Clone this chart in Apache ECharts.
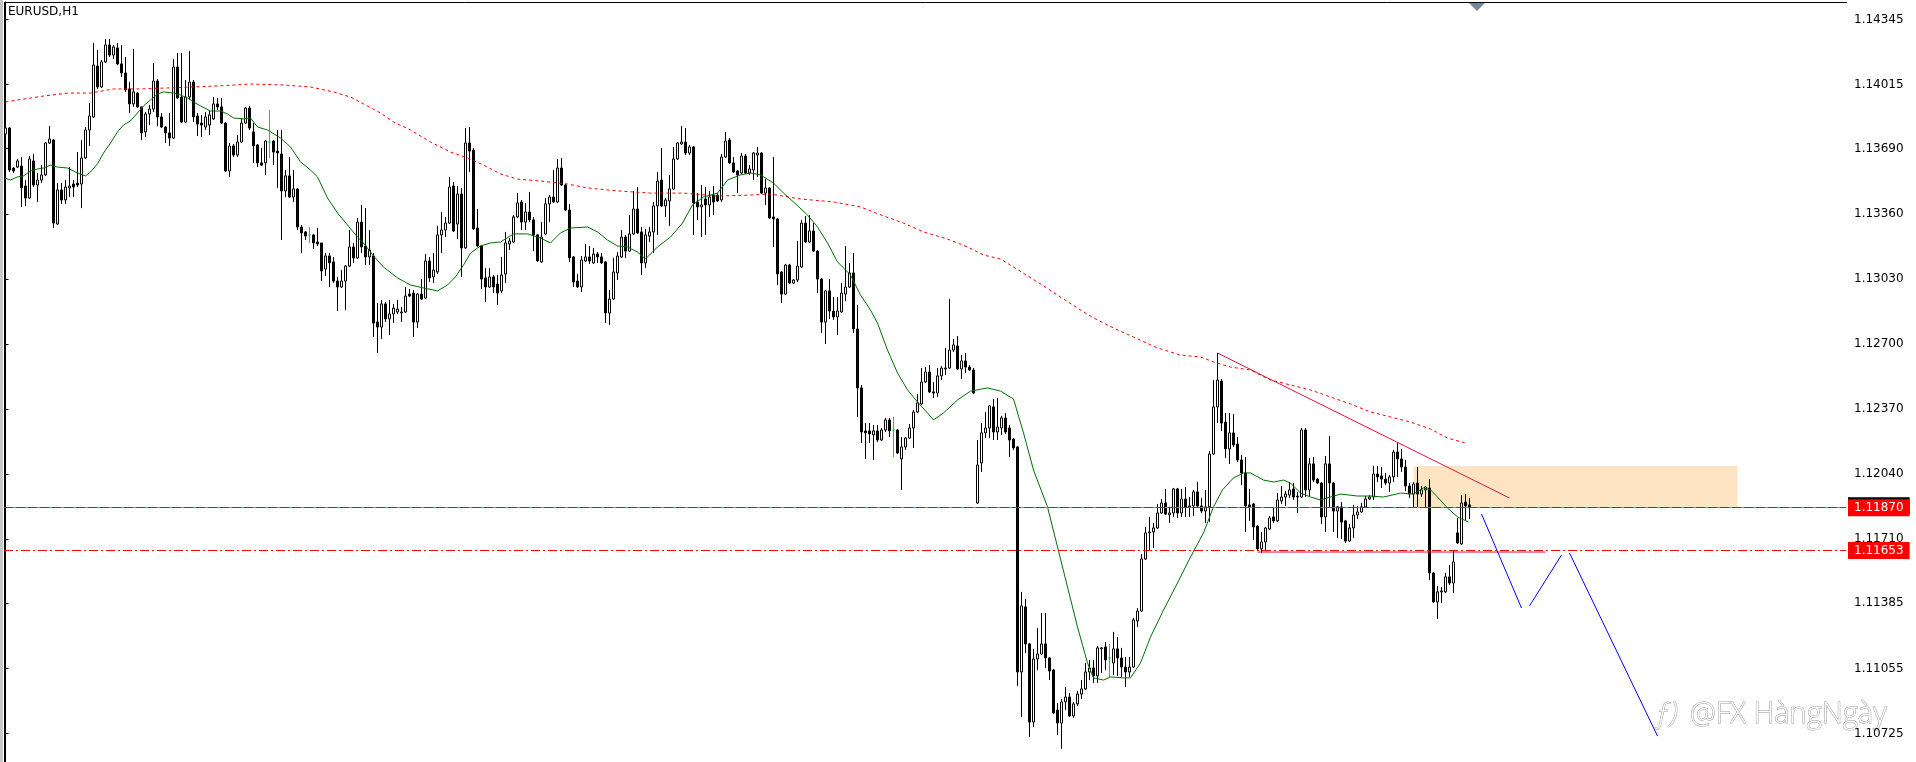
<!DOCTYPE html>
<html><head><meta charset="utf-8">
<script src="https://cdn.jsdelivr.net/npm/echarts@6/dist/echarts.min.js"></script>
<style>html,body{margin:0;padding:0;background:#fff;overflow:hidden}#c{width:1916px;height:762px}</style>
</head><body><div id="c"></div>
<script>
const chartTitle = 'EURUSD,H1';
const watermark = '@FX HàngNgày';

const open = [
1.13765,1.13795,1.13592,1.13597,1.13602,1.13501,1.13440,1.13628,1.13506,1.13531,
1.13557,1.13719,1.13734,1.13308,1.13481,1.13430,1.13491,1.13511,1.13516,1.13511,
1.13643,1.13785,1.13851,1.14109,1.14003,1.14130,1.14216,1.14165,1.14201,1.14120,
1.14074,1.13993,1.13917,1.13972,1.13902,1.13775,1.13866,1.13891,1.14033,1.13851,
1.13800,1.13770,1.13744,1.14104,1.13952,1.13825,1.13952,1.14028,1.13856,1.13820,
1.13800,1.13810,1.13841,1.13917,1.13902,1.13820,1.13577,1.13704,1.13658,1.13724,
1.13820,1.13896,1.13775,1.13709,1.13618,1.13618,1.13724,1.13729,1.13678,1.13663,
1.13476,1.13552,1.13445,1.13486,1.13293,1.13268,1.13253,1.13253,1.13217,1.13212,
1.13080,1.13146,1.13116,1.13019,1.12989,1.13019,1.13095,1.13192,1.13136,1.13318,
1.13197,1.13141,1.13146,1.12811,1.12786,1.12903,1.12827,1.12852,1.12862,1.12857,
1.12862,1.12953,1.12958,1.12811,1.12953,1.12933,1.13121,1.13040,1.13065,1.13253,
1.13278,1.13313,1.13501,1.13308,1.13460,1.13187,1.13719,1.13683,1.13288,1.13197,
1.13035,1.12989,1.13040,1.13004,1.12969,1.13055,1.13207,1.13217,1.13344,1.13420,
1.13318,1.13369,1.13329,1.13253,1.13116,1.13258,1.13410,1.13445,1.13420,1.13592,
1.13506,1.13379,1.13141,1.13019,1.12989,1.13121,1.13141,1.13111,1.13156,1.13141,
1.13116,1.12857,1.12928,1.13060,1.13141,1.13242,1.13171,1.13258,1.13384,1.13268,
1.13111,1.13247,1.13268,1.13400,1.13531,1.13400,1.13425,1.13486,1.13638,1.13714,
1.13724,1.13668,1.13699,1.13420,1.13395,1.13435,1.13405,1.13455,1.13455,1.13430,
1.13648,1.13734,1.13618,1.13577,1.13567,1.13653,1.13567,1.13582,1.13658,1.13668,
1.13465,1.13491,1.13344,1.13334,1.13065,1.12953,1.13100,1.13009,1.13024,1.13090,
1.13313,1.13217,1.13273,1.13171,1.13029,1.12811,1.12969,1.12867,1.12837,1.12862,
1.12953,1.12989,1.13060,1.12776,1.12477,1.12259,1.12259,1.12239,1.12259,1.12213,
1.12264,1.12315,1.12264,1.12264,1.12117,1.12178,1.12223,1.12274,1.12355,1.12396,
1.12507,1.12558,1.12457,1.12451,1.12538,1.12573,1.12578,1.12669,1.12690,1.12573,
1.12614,1.12583,1.12568,1.11894,1.12097,1.12249,1.12274,1.12381,1.12254,1.12274,
1.12325,1.12274,1.12218,1.12178,1.11037,1.11367,1.11179,1.10783,1.11103,1.11128,
1.11179,1.11108,1.11047,1.10844,1.10778,1.10885,1.10910,1.10814,1.10875,1.10925,
1.10951,1.11037,1.11057,1.11017,1.11154,1.11164,1.11108,1.11083,1.11154,1.11108,
1.11062,1.11037,1.11062,1.11296,1.11346,1.11610,1.11742,1.11747,1.11767,1.11843,
1.11894,1.11833,1.11843,1.11965,1.11843,1.11914,1.11874,1.11879,1.11950,1.11879,
1.11853,1.11874,1.12142,1.12381,1.12512,1.12304,1.12168,1.12249,1.12193,1.12112,
1.12046,1.11884,1.11889,1.11777,1.11661,1.11696,1.11762,1.11823,1.11803,1.11904,
1.11924,1.11934,1.11965,1.11929,1.11924,1.12264,1.11960,1.12092,1.12015,1.11995,
1.11823,1.12092,1.11995,1.11853,1.11874,1.11803,1.11701,1.11767,1.11833,1.11848,
1.11874,1.11914,1.11924,1.12041,1.12031,1.12015,1.11995,1.12026,1.12152,1.12117,
1.12076,1.11980,1.11939,1.11995,1.11939,1.11960,1.11970,1.11539,1.11392,1.11443,
1.11443,1.11519,1.11488,1.11742,1.11686,1.11899,1.11884];

const high = [
1.13805,1.13800,1.13597,1.13638,1.13648,1.13531,1.13653,1.13663,1.13567,1.13607,
1.13724,1.13805,1.13739,1.13516,1.13516,1.13531,1.13597,1.13531,1.13673,1.13734,
1.13800,1.13922,1.14226,1.14190,1.14140,1.14246,1.14246,1.14216,1.14226,1.14216,
1.14155,1.14028,1.14196,1.13978,1.13902,1.13876,1.13912,1.14125,1.14043,1.13871,
1.13805,1.13871,1.14145,1.14175,1.14175,1.14038,1.14185,1.14038,1.13871,1.13861,
1.13876,1.13886,1.13952,1.13947,1.13947,1.13825,1.13719,1.13714,1.13760,1.13846,
1.13902,1.13907,1.13820,1.13714,1.13694,1.13734,1.13886,1.13734,1.13785,1.13785,
1.13582,1.13648,1.13582,1.13491,1.13303,1.13273,1.13293,1.13258,1.13288,1.13212,
1.13161,1.13161,1.13141,1.13040,1.13075,1.13100,1.13278,1.13212,1.13339,1.13405,
1.13389,1.13278,1.13161,1.12908,1.12923,1.12913,1.12923,1.12903,1.12923,1.12888,
1.12989,1.12979,1.12974,1.12958,1.13029,1.13156,1.13141,1.13161,1.13298,1.13369,
1.13344,1.13547,1.13521,1.13501,1.13491,1.13795,1.13800,1.13694,1.13384,1.13202,
1.13085,1.13085,1.13050,1.13050,1.13141,1.13268,1.13237,1.13354,1.13465,1.13430,
1.13415,1.13471,1.13344,1.13258,1.13318,1.13440,1.13455,1.13582,1.13638,1.13643,
1.13511,1.13410,1.13146,1.13055,1.13146,1.13207,1.13197,1.13187,1.13166,1.13161,
1.13121,1.12974,1.13136,1.13166,1.13278,1.13253,1.13354,1.13476,1.13496,1.13293,
1.13283,1.13293,1.13420,1.13572,1.13694,1.13440,1.13557,1.13699,1.13724,1.13805,
1.13795,1.13709,1.13704,1.13465,1.13506,1.13496,1.13476,1.13501,1.13465,1.13663,
1.13775,1.13744,1.13648,1.13582,1.13668,1.13663,1.13607,1.13673,1.13699,1.13673,
1.13536,1.13496,1.13648,1.13339,1.13070,1.13106,1.13106,1.13029,1.13222,1.13329,
1.13349,1.13354,1.13313,1.13176,1.13035,1.12974,1.13029,1.12938,1.12938,1.13009,
1.13197,1.13111,1.13161,1.12898,1.12492,1.12299,1.12299,1.12289,1.12289,1.12274,
1.12325,1.12325,1.12330,1.12269,1.12228,1.12228,1.12294,1.12365,1.12446,1.12578,
1.12583,1.12593,1.12507,1.12578,1.12588,1.12680,1.12928,1.12725,1.12740,1.12644,
1.12654,1.12593,1.12578,1.12213,1.12299,1.12355,1.12391,1.12421,1.12426,1.12335,
1.12350,1.12289,1.12223,1.12183,1.11443,1.11407,1.11184,1.11154,1.11260,1.11336,
1.11336,1.11113,1.11052,1.10880,1.10900,1.10961,1.10930,1.10885,1.10941,1.10996,
1.11083,1.11098,1.11098,1.11169,1.11164,1.11189,1.11179,1.11240,1.11214,1.11159,
1.11113,1.11113,1.11311,1.11361,1.11635,1.11772,1.11823,1.11792,1.11889,1.11914,
1.11965,1.11874,1.11970,1.11970,1.11965,1.11975,1.11924,1.11960,1.12000,1.11919,
1.11960,1.12157,1.12517,1.12654,1.12522,1.12350,1.12350,1.12345,1.12228,1.12137,
1.12127,1.11965,1.11894,1.11782,1.11747,1.11772,1.11828,1.11874,1.11944,1.11980,
1.11955,1.12000,1.11995,1.11950,1.12274,1.12274,1.12122,1.12127,1.12021,1.12000,
1.12132,1.12233,1.12000,1.11879,1.11899,1.11808,1.11787,1.11884,1.11879,1.11894,
1.11929,1.11934,1.12081,1.12081,1.12076,1.12046,1.12036,1.12162,1.12198,1.12168,
1.12112,1.11995,1.12000,1.12076,1.11980,1.11980,1.12015,1.11544,1.11473,1.11468,
1.11539,1.11579,1.11650,1.11818,1.11934,1.11939,1.11919];

const low = [
1.13749,1.13572,1.13567,1.13592,1.13395,1.13400,1.13435,1.13496,1.13420,1.13516,
1.13552,1.13714,1.13288,1.13303,1.13410,1.13410,1.13445,1.13445,1.13496,1.13389,
1.13638,1.13704,1.13846,1.13993,1.13998,1.14125,1.14155,1.14145,1.14114,1.14054,
1.13978,1.13871,1.13902,1.13896,1.13734,1.13749,1.13810,1.13876,1.13805,1.13795,
1.13719,1.13704,1.13739,1.13942,1.13820,1.13820,1.13937,1.13825,1.13754,1.13749,
1.13785,1.13760,1.13836,1.13886,1.13815,1.13572,1.13547,1.13648,1.13648,1.13719,
1.13815,1.13785,1.13618,1.13597,1.13602,1.13557,1.13643,1.13607,1.13491,1.13227,
1.13445,1.13440,1.13420,1.13278,1.13161,1.13227,1.13212,1.13182,1.13197,1.13019,
1.13045,1.12989,1.13009,1.12867,1.12984,1.12872,1.13090,1.13111,1.13131,1.13161,
1.13100,1.13100,1.12735,1.12654,1.12725,1.12811,1.12746,1.12806,1.12852,1.12811,
1.12857,1.12938,1.12735,1.12781,1.12923,1.12928,1.13014,1.13009,1.13055,1.13161,
1.13242,1.13308,1.13268,1.13232,1.13040,1.13182,1.13572,1.13278,1.13192,1.12979,
1.12913,1.12984,1.12958,1.12898,1.12958,1.13009,1.13176,1.13212,1.13339,1.13278,
1.13278,1.13318,1.13171,1.13116,1.13111,1.13253,1.13318,1.13415,1.13415,1.13501,
1.13374,1.13116,1.12989,1.12984,1.12964,1.13116,1.13106,1.13106,1.13111,1.13106,
1.12806,1.12796,1.12923,1.13024,1.13136,1.13136,1.13166,1.13253,1.13258,1.13050,
1.13085,1.13217,1.13161,1.13253,1.13395,1.13344,1.13298,1.13481,1.13633,1.13709,
1.13658,1.13658,1.13253,1.13329,1.13242,1.13253,1.13344,1.13354,1.13420,1.13420,
1.13643,1.13613,1.13567,1.13465,1.13562,1.13562,1.13557,1.13531,1.13547,1.13460,
1.13405,1.13334,1.13192,1.12999,1.12908,1.12948,1.13004,1.13004,1.13014,1.13085,
1.13212,1.13212,1.13166,1.12958,1.12756,1.12700,1.12827,1.12822,1.12746,1.12857,
1.12918,1.12984,1.12756,1.12330,1.12198,1.12117,1.12198,1.12112,1.12203,1.12208,
1.12254,1.12228,1.12127,1.12142,1.11960,1.12162,1.12218,1.12173,1.12350,1.12391,
1.12502,1.12451,1.12426,1.12431,1.12517,1.12543,1.12573,1.12659,1.12568,1.12522,
1.12553,1.12563,1.12446,1.11889,1.12051,1.12223,1.12223,1.12213,1.12213,1.12239,
1.12244,1.12127,1.12162,1.10966,1.10809,1.11133,1.10707,1.10758,1.11047,1.11123,
1.11057,1.10996,1.10824,1.10718,1.10647,1.10844,1.10809,1.10804,1.10865,1.10900,
1.10946,1.10996,1.10981,1.10981,1.11032,1.11047,1.11012,1.11022,1.11017,1.11012,
1.10961,1.11012,1.11057,1.11265,1.11341,1.11605,1.11655,1.11666,1.11762,1.11838,
1.11833,1.11792,1.11823,1.11818,1.11823,1.11823,1.11823,1.11828,1.11868,1.11843,
1.11792,1.11797,1.12137,1.12299,1.12259,1.12122,1.12092,1.12178,1.12102,1.11985,
1.11747,1.11803,1.11706,1.11650,1.11640,1.11655,1.11757,1.11792,1.11797,1.11889,
1.11879,1.11919,1.11909,1.11843,1.11919,1.11924,1.11924,1.12000,1.11990,1.11787,
1.11747,1.11874,1.11747,1.11716,1.11711,1.11691,1.11696,1.11716,1.11813,1.11843,
1.11868,1.11909,1.11909,1.12000,1.11970,1.11985,1.11950,1.12000,1.12026,1.12051,
1.11955,1.11919,1.11874,1.11874,1.11924,1.11874,1.11503,1.11387,1.11306,1.11387,
1.11437,1.11478,1.11437,1.11686,1.11681,1.11808,1.11813];

const close = [
1.13795,1.13582,1.13577,1.13628,1.13491,1.13440,1.13638,1.13506,1.13531,1.13557,
1.13719,1.13739,1.13313,1.13481,1.13430,1.13496,1.13501,1.13496,1.13506,1.13643,
1.13785,1.13856,1.14114,1.14003,1.14130,1.14216,1.14165,1.14206,1.14120,1.14074,
1.13988,1.13917,1.13978,1.13902,1.13770,1.13866,1.13891,1.14033,1.13851,1.13800,
1.13770,1.13744,1.14104,1.13947,1.13825,1.13952,1.14028,1.13851,1.13815,1.13810,
1.13851,1.13861,1.13917,1.13902,1.13820,1.13577,1.13704,1.13658,1.13724,1.13820,
1.13896,1.13795,1.13704,1.13618,1.13607,1.13729,1.13724,1.13673,1.13668,1.13476,
1.13552,1.13445,1.13486,1.13293,1.13263,1.13247,1.13253,1.13212,1.13207,1.13070,
1.13146,1.13111,1.13019,1.12989,1.13019,1.13095,1.13192,1.13136,1.13318,1.13192,
1.13141,1.13176,1.12806,1.12786,1.12903,1.12827,1.12852,1.12882,1.12877,1.12862,
1.12943,1.12943,1.12811,1.12953,1.12928,1.13121,1.13035,1.13075,1.13253,1.13278,
1.13313,1.13496,1.13273,1.13460,1.13187,1.13719,1.13678,1.13283,1.13197,1.13029,
1.12989,1.13040,1.12989,1.12958,1.13050,1.13212,1.13222,1.13344,1.13415,1.13318,
1.13369,1.13329,1.13253,1.13121,1.13242,1.13410,1.13445,1.13420,1.13592,1.13506,
1.13379,1.13136,1.13014,1.12989,1.13126,1.13141,1.13121,1.13156,1.13141,1.13111,
1.12857,1.12928,1.13065,1.13146,1.13242,1.13171,1.13258,1.13384,1.13263,1.13111,
1.13253,1.13268,1.13400,1.13526,1.13400,1.13430,1.13486,1.13638,1.13719,1.13724,
1.13668,1.13699,1.13415,1.13395,1.13405,1.13405,1.13445,1.13420,1.13425,1.13648,
1.13729,1.13618,1.13572,1.13557,1.13653,1.13567,1.13587,1.13668,1.13668,1.13465,
1.13491,1.13339,1.13334,1.13055,1.12953,1.13100,1.13009,1.13024,1.13095,1.13313,
1.13217,1.13273,1.13171,1.13029,1.12811,1.12969,1.12867,1.12837,1.12867,1.12958,
1.12989,1.13060,1.12776,1.12477,1.12254,1.12249,1.12244,1.12259,1.12213,1.12264,
1.12315,1.12259,1.12264,1.12147,1.12178,1.12223,1.12274,1.12355,1.12401,1.12507,
1.12558,1.12457,1.12451,1.12538,1.12578,1.12578,1.12669,1.12695,1.12573,1.12614,
1.12583,1.12568,1.12451,1.12086,1.12249,1.12274,1.12386,1.12254,1.12279,1.12325,
1.12254,1.12213,1.12173,1.11037,1.11372,1.11179,1.10783,1.11103,1.11128,1.11179,
1.11108,1.11042,1.10829,1.10778,1.10885,1.10910,1.10814,1.10875,1.10925,1.10951,
1.11037,1.11057,1.11017,1.11159,1.11159,1.11098,1.11108,1.11154,1.11108,1.11062,
1.11037,1.11062,1.11301,1.11346,1.11610,1.11742,1.11747,1.11767,1.11843,1.11894,
1.11838,1.11843,1.11965,1.11843,1.11914,1.11874,1.11879,1.11950,1.11879,1.11853,
1.11874,1.12142,1.12381,1.12517,1.12299,1.12168,1.12249,1.12188,1.12112,1.12046,
1.11879,1.11874,1.11772,1.11661,1.11696,1.11767,1.11818,1.11803,1.11909,1.11924,
1.11939,1.11960,1.11924,1.11924,1.12264,1.11960,1.12092,1.12010,1.11995,1.11823,
1.12092,1.11995,1.11853,1.11874,1.11797,1.11701,1.11767,1.11833,1.11848,1.11874,
1.11914,1.11924,1.12041,1.12026,1.12015,1.11995,1.12026,1.12152,1.12117,1.12076,
1.11980,1.11939,1.11990,1.11939,1.11960,1.11975,1.11539,1.11392,1.11443,1.11448,
1.11519,1.11488,1.11595,1.11691,1.11894,1.11879,1.11870];

// fast moving average (green) at bar positions
const maFastBar = [-0.25,1.25,3,4.5,6.25,8,9.5,11.25,13,15.5,18,20,21.25,23,24.5,26.25,28,29.5,31.25,33,34.5,36.25,38,39.5,42,43.75,45.5,47,48.75,51.25,53.75,55.5,57,59.5,61.25,63,65.5,68.75,71.25,73.75,76.25,78,80.5,83,85.5,88,89.5,92,94.5,98,101.25,104.5,108,110.5,112.5,114.5,116.25,118.75,121.25,123.75,127,130.5,133.75,136.25,138.75,141.25,145.5,148,150.5,153,155.5,158,160,163,166.25,169.25,171.75,174.5,178,180.5,183.75,186.25,188.75,192,194.5,197,200.5,203,205.5,208,211.25,213.75,216.25,218,220.5,223,225.5,228,230.5,232,234.5,238,241.25,245.5,248.75,252,254.5,257,260.5,263,265.5,268,270.5,272,274.5,276.25,279.5,281.25,283.75,286.25,289.5,293,296.25,299.5,302,304.25,307,309.5,311.25,314.5,317,319.5,321.25,323.75,326.25,328.75,331.25,333.75,338,341.25,344.5,348.75,352,354.5,356.25,358,360.5,363,365.75];
const maFastVal = [1.13542,1.13531,1.13547,1.13552,1.13577,1.13587,1.13592,1.13607,1.13597,1.13592,1.13567,1.13552,1.13572,1.13613,1.13668,1.13719,1.13775,1.13810,1.13831,1.13871,1.13907,1.13937,1.13967,1.13978,1.13972,1.13962,1.13947,1.13927,1.13907,1.13881,1.13881,1.13866,1.13846,1.13841,1.13846,1.13800,1.13785,1.13744,1.13699,1.13623,1.13582,1.13547,1.13440,1.13364,1.13303,1.13242,1.13212,1.13146,1.13090,1.13035,1.12999,1.12984,1.12969,1.12999,1.13040,1.13100,1.13161,1.13197,1.13212,1.13217,1.13258,1.13258,1.13237,1.13212,1.13263,1.13288,1.13293,1.13268,1.13227,1.13197,1.13192,1.13166,1.13131,1.13192,1.13242,1.13313,1.13405,1.13445,1.13465,1.13531,1.13557,1.13567,1.13557,1.13516,1.13465,1.13420,1.13354,1.13293,1.13212,1.13116,1.13050,1.12948,1.12872,1.12806,1.12669,1.12553,1.12467,1.12406,1.12350,1.12315,1.12350,1.12416,1.12461,1.12477,1.12461,1.12421,1.12249,1.12061,1.11874,1.11671,1.11468,1.11265,1.11083,1.11007,1.10996,1.11012,1.11007,1.11007,1.11083,1.11214,1.11351,1.11488,1.11620,1.11742,1.11874,1.11960,1.12021,1.12046,1.12046,1.12010,1.12000,1.12010,1.11995,1.11944,1.11924,1.11909,1.11924,1.11939,1.11929,1.11929,1.11924,1.11944,1.11939,1.11970,1.11960,1.11924,1.11868,1.11823,1.11797];

// slow moving average (red dotted)
const maSlowBar = [0,3,6.25,9.5,15.5,21.25,27,33.75,40.5,47,53,61.25,69.5,76.25,82,86.25,89.5,93.75,97,101.25,106.25,111.25,115.5,119.5,123.75,128,133.75,140.5,145.5,153,161.25,169.5,178,186.25,191.25,198.75,207,213.75,219.5,224.5,229.5,235.5,240.5,244.5,248.75,258,263,268,272,277,282,288,293.75,298.75,302,306.25,311.25,316.25,321.25,326.25,331.25,336.25,341.25,346.25,351.25,356.25,360.5,365];
const maSlowVal = [1.13927,1.13937,1.13947,1.13957,1.13972,1.13972,1.13993,1.13993,1.13998,1.14003,1.14008,1.14018,1.14013,1.14003,1.13978,1.13952,1.13917,1.13871,1.13825,1.13785,1.13724,1.13673,1.13643,1.13607,1.13562,1.13536,1.13526,1.13511,1.13491,1.13476,1.13465,1.13465,1.13450,1.13455,1.13460,1.13435,1.13420,1.13395,1.13349,1.13313,1.13268,1.13232,1.13192,1.13151,1.13131,1.13014,1.12948,1.12882,1.12832,1.12781,1.12735,1.12680,1.12644,1.12634,1.12609,1.12583,1.12568,1.12517,1.12492,1.12467,1.12431,1.12396,1.12355,1.12330,1.12304,1.12269,1.12223,1.12198];

const priceTicks = [1.14345,1.14015,1.13690,1.13360,1.13030,1.12700,1.12370,1.12040,1.11710,1.11385,1.11055,1.10725];
const bidPrice = 1.11870;
const levelPrice = 1.11653;
const zoneBars = [352, 433];
const zonePrices = [1.12081, 1.11870];
const trendBars = [303, 376];
const trendPrices = [1.12654, 1.11919];
const supportBars = [313, 385];
const supportPrices = [1.11645, 1.11645];
const pathBars = [[369, 379], [381, 389], [391, 413]];
const pathPrices = [[1.11838, 1.11361], [1.11372, 1.11630], [1.11640, 1.10712]];

const FONT = 'DejaVu Sans';
const candles = open.map((o, i) => [i, o, close[i], low[i], high[i]]);
const zip = (xs, ys) => xs.map((x, i) => [x, ys[i]]);

const chart = echarts.init(document.getElementById('c'), null, {renderer: 'canvas'});
const lineBase = {type: 'line', showSymbol: false, symbol: 'none', silent: true, animation: false, clip: true};

const priceLabel = {
  show: true, position: 'end', distance: 2,
  formatter: p => Number(p.value).toFixed(5),
  backgroundColor: '#ff0000', color: '#ffffff', padding: [3, 6, 2, 6],
  fontFamily: FONT, fontSize: 12
};

const series = [
  {
    type: 'candlestick', z: 2, barWidth: 2, animation: false, silent: true,
    encode: {x: 0, y: [1, 2, 3, 4]},
    data: candles,
    itemStyle: {color: '#ffffff', color0: '#000000', borderColor: '#000000', borderColor0: '#000000', borderColorDoji: '#00e000', borderWidth: 1},
    emphasis: {disabled: true},
    markArea: {
      silent: true, animation: false,
      itemStyle: {color: '#ffe4c4', opacity: 1},
      data: [[{coord: [zoneBars[0], zonePrices[0]]}, {coord: [zoneBars[1], zonePrices[1]]}]]
    },
    markLine: {
      silent: true, animation: false, symbol: ['none', 'none'], precision: 5,
      data: [
        {yAxis: bidPrice, lineStyle: {color: '#8c8c8c', type: 'solid', width: 1}, label: {show: false}},
        {yAxis: bidPrice, lineStyle: {color: '#ff0000', type: [9, 3], width: 1},
         label: Object.assign({}, priceLabel, {shadowColor: '#000', shadowOffsetY: -2, shadowBlur: 0})},
        {yAxis: levelPrice, lineStyle: {color: '#ff0000', type: [9, 3, 2, 3], width: 1}, label: priceLabel}
      ]
    }
  },
  Object.assign({}, lineBase, {z: 3, data: zip(maSlowBar, maSlowVal), lineStyle: {color: '#ff0000', width: 1, type: [3, 3]}}),
  Object.assign({}, lineBase, {z: 3, data: zip(maFastBar, maFastVal), lineStyle: {color: '#006e00', width: 1}}),
  Object.assign({}, lineBase, {z: 4, data: zip(trendBars, trendPrices), lineStyle: {color: '#dc143c', width: 1}}),
  Object.assign({}, lineBase, {z: 4, data: zip(supportBars, supportPrices), lineStyle: {color: '#dc143c', width: 1}}),
];
pathBars.forEach((b, k) => {
  series.push(Object.assign({}, lineBase, {z: 4, data: zip(b, pathPrices[k]), lineStyle: {color: '#0000ff', width: 1}}));
});

chart.setOption({
  animation: false,
  backgroundColor: '#ffffff',
  title: {text: chartTitle, left: 8, top: 6, padding: 0,
    textStyle: {fontFamily: FONT, fontSize: 12, fontWeight: 'normal', color: '#000'}},
  grid: {left: 4, top: 2, right: 70, bottom: 0, show: false},
  xAxis: {type: 'value', min: -0.375, max: 460.125, show: false},
  yAxis: {
    type: 'value', position: 'right', min: 1.105805, max: 1.144338,
    axisLine: {show: true, lineStyle: {color: '#000', width: 1}},
    axisTick: {show: true, length: 3, lineStyle: {color: '#000'}, customValues: priceTicks},
    axisLabel: {customValues: priceTicks, formatter: v => v.toFixed(5), color: '#000', fontFamily: FONT, fontSize: 12, margin: 8},
    splitLine: {show: false}
  },
  graphic: [
    {type: 'rect', silent: true, shape: {x: 0, y: 0, width: 3, height: 762}, style: {fill: '#c8c8c8'}},
    {type: 'line', silent: true, shape: {x1: 4.5, y1: 2, x2: 4.5, y2: 762}, style: {stroke: '#000', lineWidth: 1}},
    {type: 'line', silent: true, shape: {x1: 4, y1: 2.5, x2: 1847, y2: 2.5}, style: {stroke: '#000', lineWidth: 1}},
    {type: 'polygon', silent: true, shape: {points: [[1469, 3], [1485, 3], [1477, 11]]}, style: {fill: '#778899'}},
    {type: 'text', silent: true, x: 1655, y: 700, style: {text: 'ƒ)', font: 'italic 300 28px "Open Sans", sans-serif', fill: '#ffffff', stroke: '#9a9a9a', lineWidth: 1}},
    {type: 'text', silent: true, x: 1690, y: 700, style: {text: watermark, font: '300 29px "Open Sans", sans-serif', fill: '#ffffff', stroke: '#9a9a9a', lineWidth: 1}}
  ],
  series: series
});
</script></body></html>
